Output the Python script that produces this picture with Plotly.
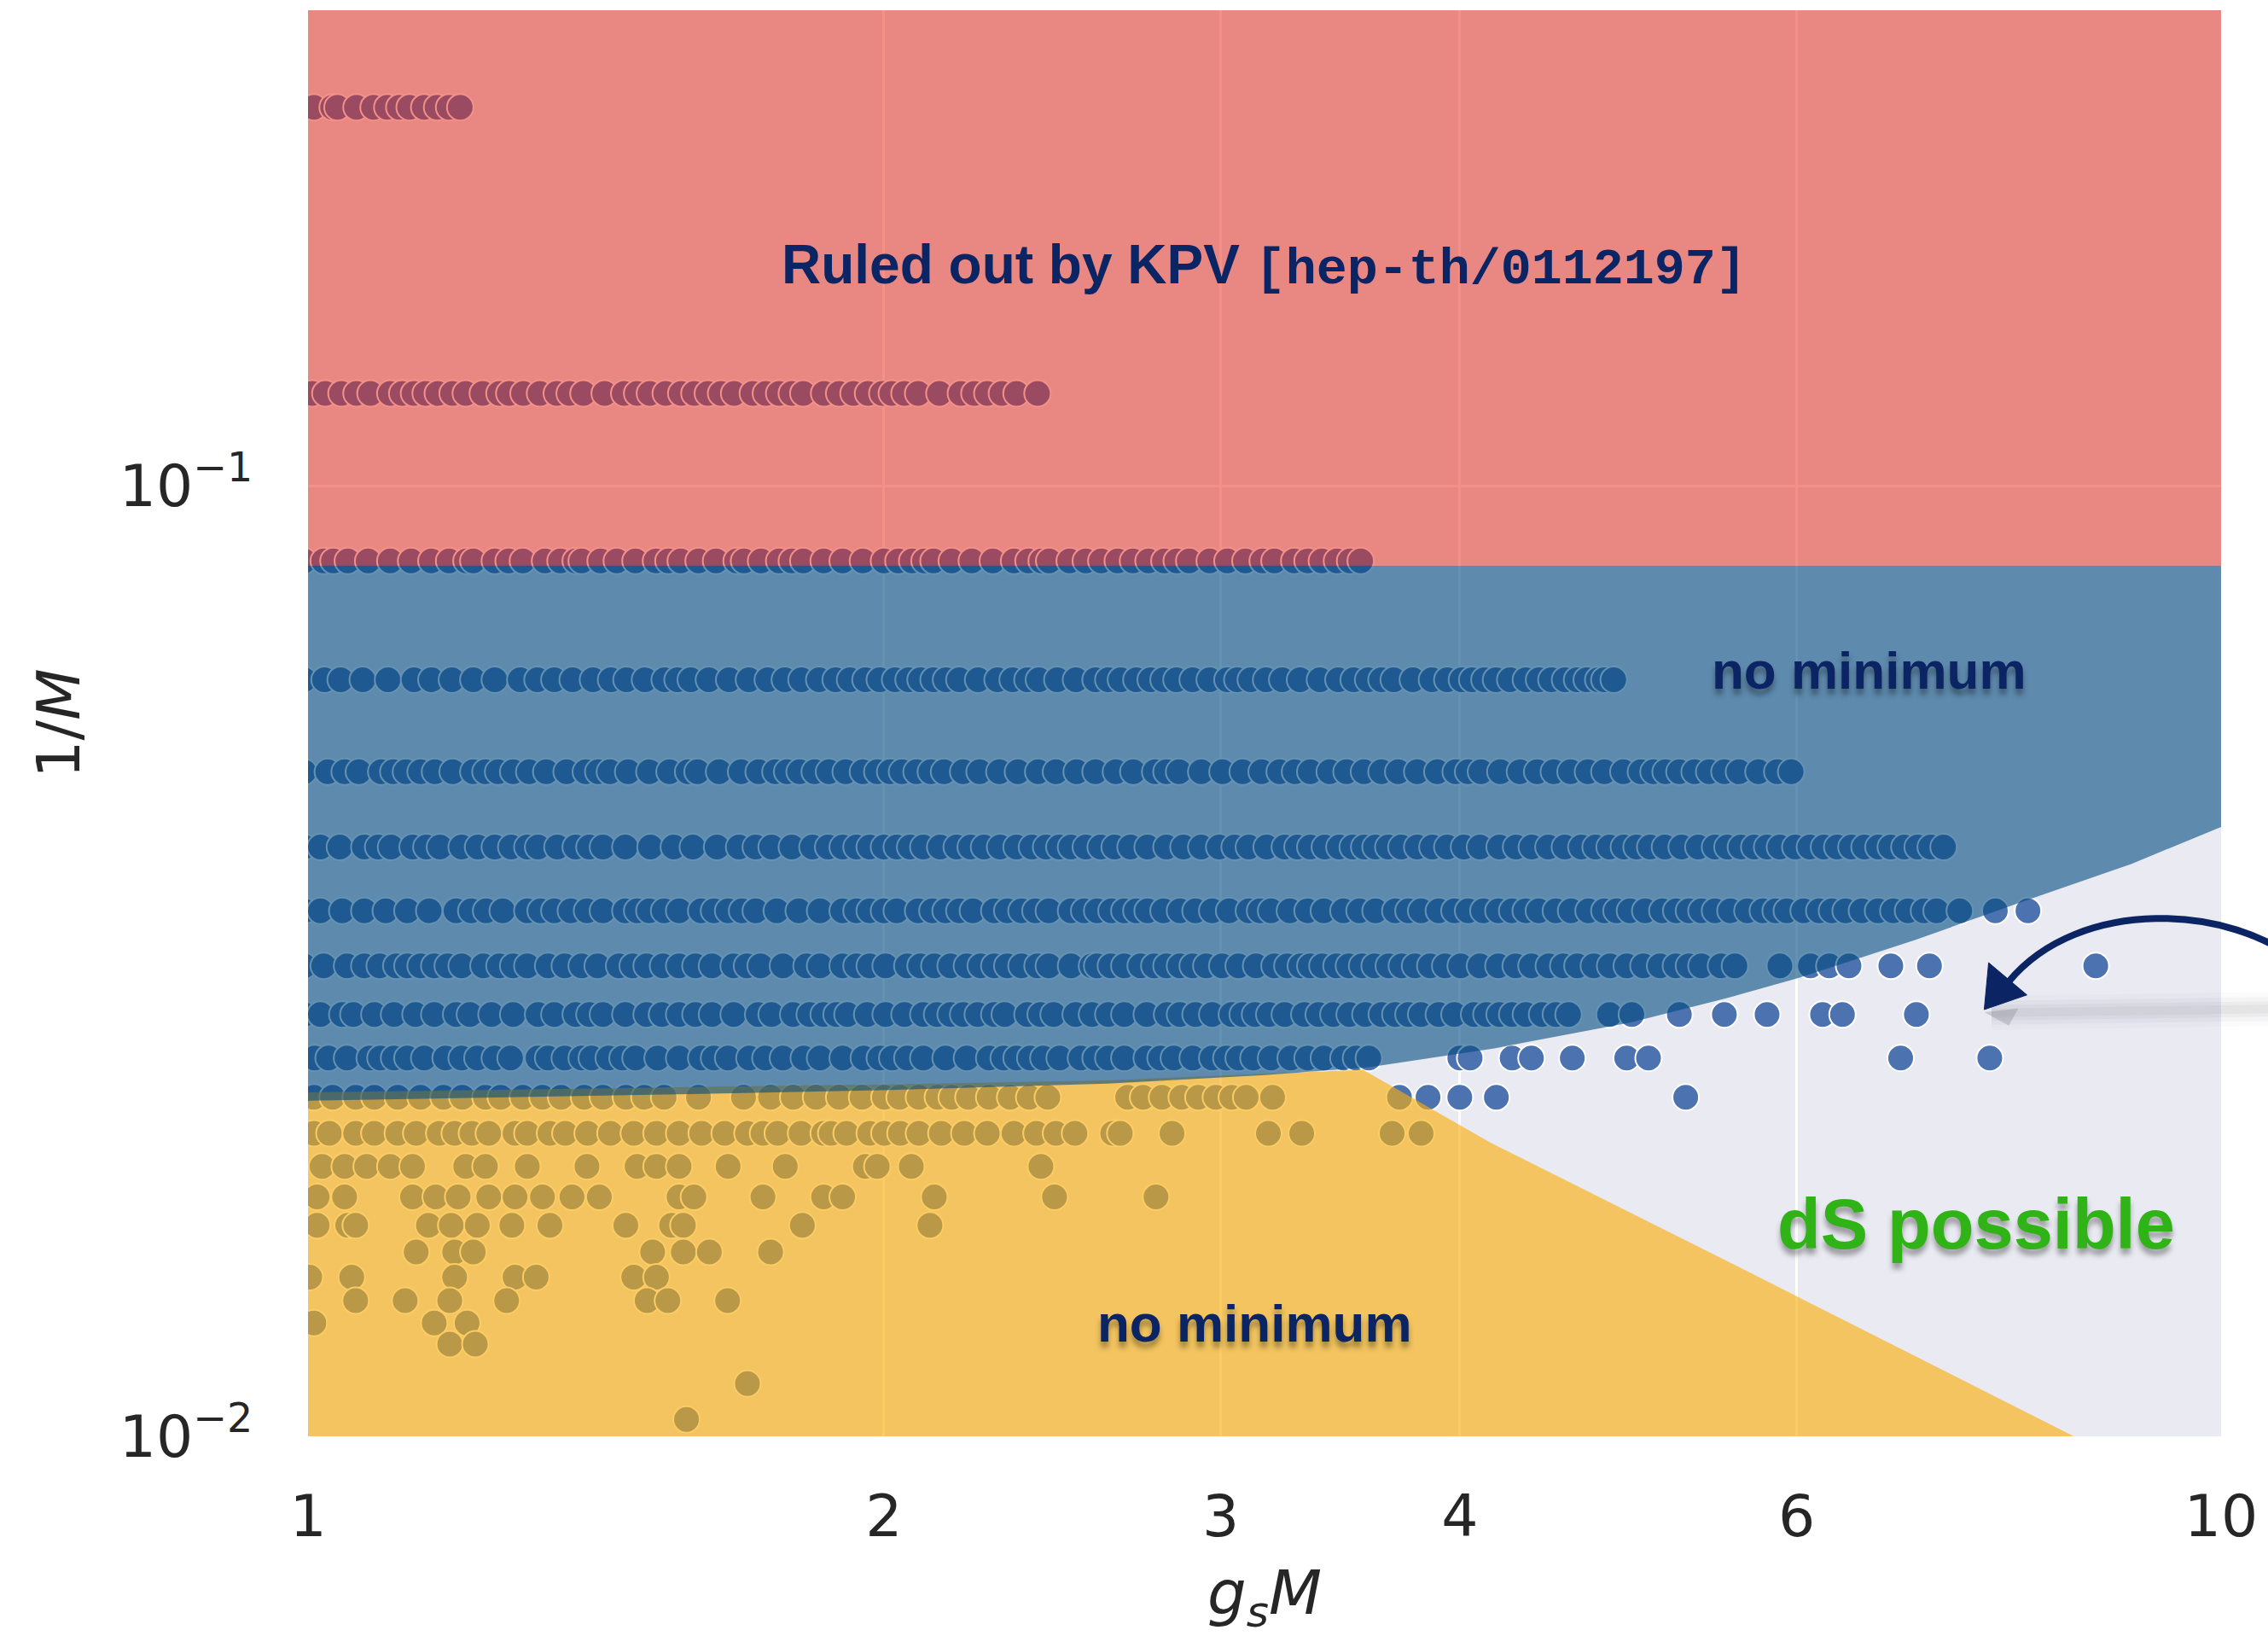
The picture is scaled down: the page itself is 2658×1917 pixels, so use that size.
import plotly.graph_objects as go

# ---------------------------------------------------------------------------
# Scan points: one list of g_s*M values per flux value M (plotted at y = 1/M)
# ---------------------------------------------------------------------------
M_values = [4, 8, 12, 16, 20, 24, 28, 32, 36, 40, 44, 48, 52, 56, 60, 64, 68, 72, 76, 80, 88, 96]

gsM_M4 = [0.995, 1.007, 1.03, 1.036, 1.06, 1.082, 1.10, 1.116, 1.13, 1.15, 1.168, 1.185, 1.201]

gsM_M8 = [0.995, 1.005, 1.021, 1.041, 1.06, 1.078, 1.104, 1.12, 1.136, 1.152, 1.169, 1.19, 1.209,
          1.234, 1.259, 1.274, 1.296, 1.322, 1.349, 1.37, 1.393, 1.429, 1.463, 1.486, 1.509,
          1.538, 1.567, 1.592, 1.618, 1.644, 1.670, 1.708, 1.735, 1.763, 1.79, 1.815, 1.861,
          1.895, 1.928, 1.962, 1.996, 2.019, 2.05, 2.084, 2.138, 2.194, 2.23, 2.265, 2.305,
          2.346, 2.406]

gsM_M12 = [0.995, 1.019, 1.031, 1.049, 1.075, 1.104, 1.132, 1.160, 1.185, 1.210, 1.22, 1.252,
           1.273, 1.295, 1.33, 1.355, 1.380, 1.39, 1.422, 1.45, 1.483, 1.52, 1.543, 1.566, 1.60,
           1.634, 1.675, 1.69, 1.725, 1.763, 1.79, 1.815, 1.86, 1.903, 1.95, 2.000, 2.035,
           2.069, 2.10, 2.123, 2.17, 2.223, 2.28, 2.339, 2.38, 2.418, 2.44, 2.501, 2.55, 2.598,
           2.65, 2.699, 2.75, 2.803, 2.845, 2.888, 2.96, 3.024, 3.09, 3.155, 3.20, 3.277, 3.33,
           3.388, 3.45, 3.505, 3.55]

gsM_M16 = [0.995, 1.020, 1.04, 1.068, 1.101, 1.136, 1.16, 1.189, 1.22, 1.252, 1.291, 1.318,
           1.345, 1.375, 1.409, 1.44, 1.467, 1.50, 1.536, 1.56, 1.585, 1.62, 1.660, 1.70, 1.739,
           1.775, 1.811, 1.85, 1.887, 1.92, 1.956, 1.99, 2.027, 2.06, 2.09, 2.123, 2.155, 2.190,
           2.24, 2.293, 2.335, 2.377, 2.41, 2.464, 2.52, 2.580, 2.62, 2.660, 2.71, 2.757, 2.80,
           2.844, 2.90, 2.96, 3.024, 3.06, 3.11, 3.168, 3.23, 3.300, 3.38, 3.456, 3.52, 3.582,
           3.64, 3.694, 3.78, 3.868, 3.94, 4.010, 4.06, 4.12, 4.178, 4.25, 4.331, 4.40, 4.466,
           4.54, 4.606, 4.66, 4.725, 4.76, 4.814]

gsM_M20 = [0.995, 1.024, 1.045, 1.063, 1.092, 1.108, 1.125, 1.145, 1.165, 1.19, 1.220, 1.238,
           1.257, 1.28, 1.305, 1.332, 1.365, 1.397, 1.418, 1.438, 1.47, 1.508, 1.545, 1.580,
           1.598, 1.64, 1.684, 1.72, 1.755, 1.78, 1.807, 1.84, 1.872, 1.91, 1.95, 1.984, 2.015,
           2.044, 2.08, 2.116, 2.15, 2.20, 2.244, 2.298, 2.35, 2.408, 2.46, 2.522, 2.58, 2.644,
           2.70, 2.772, 2.81, 2.853, 2.93, 3.006, 3.08, 3.151, 3.22, 3.28, 3.341, 3.42, 3.49,
           3.564, 3.64, 3.714, 3.80, 3.893, 3.98, 4.04, 4.103, 4.20, 4.300, 4.39, 4.479, 4.57,
           4.667, 4.76, 4.87, 4.974, 5.05, 5.124, 5.21, 5.306, 5.40, 5.50, 5.597, 5.73, 5.861,
           5.96]

gsM_M24 = [0.995, 1.015, 1.039, 1.070, 1.088, 1.105, 1.134, 1.153, 1.172, 1.203, 1.227, 1.252,
           1.277, 1.302, 1.319, 1.35, 1.380, 1.403, 1.426, 1.465, 1.51, 1.553, 1.589, 1.636,
           1.680, 1.714, 1.747, 1.79, 1.835, 1.87, 1.903, 1.935, 1.966, 2.0, 2.031, 2.064, 2.097,
           2.14, 2.183, 2.22, 2.256, 2.30, 2.346, 2.39, 2.431, 2.47, 2.505, 2.55, 2.596, 2.64,
           2.691, 2.747, 2.81, 2.868, 2.93, 2.994, 3.05, 3.103, 3.17, 3.240, 3.29, 3.341, 3.40,
           3.46, 3.516, 3.565, 3.614, 3.67, 3.728, 3.80, 3.87, 3.940, 4.02, 4.098, 4.196, 4.28,
           4.362, 4.45, 4.539, 4.630, 4.71, 4.79, 4.873, 4.948, 5.03, 5.12, 5.224, 5.33, 5.438,
           5.52, 5.61, 5.701, 5.79, 5.880, 5.99, 6.096, 6.20, 6.30, 6.408, 6.51, 6.62, 6.719,
           6.83, 6.94, 7.05, 7.16]

gsM_M28 = [0.995, 1.015, 1.042, 1.070, 1.098, 1.127, 1.157, 1.195, 1.217, 1.239, 1.264, 1.302,
           1.323, 1.345, 1.372, 1.399, 1.426, 1.465, 1.486, 1.508, 1.535, 1.563, 1.605, 1.63,
           1.658, 1.686, 1.714, 1.758, 1.805, 1.852, 1.903, 1.935, 1.966, 2.0, 2.031, 2.084,
           2.12, 2.154, 2.19, 2.226, 2.284, 2.32, 2.360, 2.40, 2.439, 2.505, 2.545, 2.585, 2.63,
           2.671, 2.71, 2.747, 2.80, 2.856, 2.91, 2.969, 3.03, 3.103, 3.145, 3.187, 3.26, 3.33,
           3.396, 3.477, 3.545, 3.614, 3.701, 3.76, 3.818, 3.90, 3.974, 4.04, 4.115, 4.19, 4.260,
           4.33, 4.399, 4.49, 4.573, 4.67, 4.760, 4.83, 4.909, 5.00, 5.104, 5.19, 5.27, 5.350,
           5.438, 5.54, 5.654, 5.76, 5.85, 5.929, 6.05, 6.165, 6.26, 6.364, 6.49, 6.617, 6.74,
           6.86, 6.993, 7.100, 7.301, 7.621, 7.926]

gsM_M32 = [0.995, 1.019, 1.048, 1.070, 1.09, 1.112, 1.127, 1.145, 1.164, 1.183, 1.203, 1.235,
           1.259, 1.28, 1.302, 1.335, 1.362, 1.390, 1.417, 1.454, 1.478, 1.503, 1.533, 1.563,
           1.594, 1.626, 1.669, 1.696, 1.724, 1.771, 1.822, 1.852, 1.903, 1.935, 1.966, 2.004,
           2.057, 2.09, 2.125, 2.167, 2.210, 2.247, 2.284, 2.32, 2.360, 2.406, 2.439, 2.505,
           2.569, 2.585, 2.628, 2.671, 2.724, 2.769, 2.81, 2.856, 2.90, 2.948, 3.005, 3.065,
           3.13, 3.200, 3.25, 3.303, 3.341, 3.39, 3.448, 3.50, 3.556, 3.61, 3.672, 3.73, 3.790,
           3.86, 3.93, 4.004, 4.098, 4.19, 4.278, 4.36, 4.452, 4.53, 4.608, 4.70, 4.793, 4.89,
           4.989, 5.09, 5.188, 5.27, 5.350, 5.477, 5.57, 5.88, 6.10, 6.24, 6.39, 6.72, 7.04,
           8.60]

gsM_M36 = [0.995, 1.015, 1.042, 1.056, 1.083, 1.109, 1.138, 1.164, 1.195, 1.215, 1.247, 1.280,
           1.319, 1.345, 1.380, 1.403, 1.426, 1.465, 1.503, 1.531, 1.563, 1.594, 1.626, 1.669,
           1.719, 1.747, 1.793, 1.829, 1.86, 1.889, 1.914, 1.96, 2.004, 2.05, 2.097, 2.132,
           2.167, 2.2, 2.239, 2.284, 2.313, 2.377, 2.415, 2.453, 2.519, 2.569, 2.62, 2.671,
           2.744, 2.812, 2.856, 2.91, 2.969, 3.040, 3.08, 3.126, 3.18, 3.240, 3.317, 3.375,
           3.435, 3.503, 3.57, 3.641, 3.701, 3.76, 3.818, 3.90, 3.974, 4.069, 4.13, 4.196, 4.26,
           4.331, 4.416, 4.49, 4.559, 4.79, 4.92, 5.21, 5.50, 5.79, 6.19, 6.34, 6.93]

gsM_M40 = [0.995, 1.008, 1.025, 1.048, 1.077, 1.091, 1.109, 1.127, 1.150, 1.180, 1.203, 1.226,
           1.252, 1.276, 1.319, 1.335, 1.362, 1.390, 1.407, 1.436, 1.46, 1.483, 1.523, 1.563,
           1.605, 1.63, 1.658, 1.701, 1.734, 1.771, 1.816, 1.852, 1.903, 1.952, 1.990, 2.02,
           2.057, 2.097, 2.154, 2.210, 2.270, 2.31, 2.346, 2.385, 2.423, 2.471, 2.535, 2.58,
           2.620, 2.671, 2.744, 2.79, 2.835, 2.900, 2.969, 3.02, 3.065, 3.12, 3.187, 3.263, 3.33,
           3.396, 3.477, 3.53, 3.585, 4.00, 4.05, 4.26, 4.36, 4.58, 4.89, 5.02, 6.80, 7.57]

gsM_M44 = [0.995, 1.007, 1.030, 1.059, 1.083, 1.114, 1.145, 1.177, 1.204, 1.238, 1.261, 1.295,
           1.326, 1.356, 1.394, 1.426, 1.466, 1.499, 1.535, 1.600, 1.689, 1.745, 1.793, 1.843,
           1.895, 1.948, 2.001, 2.038, 2.086, 2.134, 2.17, 2.214, 2.27, 2.328, 2.382, 2.436,
           2.682, 2.732, 2.795, 2.862, 2.92, 2.982, 3.04, 3.093, 3.193, 3.72, 3.85, 4.00, 4.18,
           5.25]

gsM_M48 = [1.007, 1.026, 1.059, 1.083, 1.114, 1.139, 1.171, 1.193, 1.218, 1.243, 1.283, 1.302,
           1.338, 1.363, 1.400, 1.439, 1.480, 1.521, 1.563, 1.606, 1.651, 1.697, 1.729, 1.760,
           1.81, 1.860, 1.877, 1.912, 1.966, 2.001, 2.04, 2.086, 2.143, 2.203, 2.265, 2.339,
           2.403, 2.46, 2.517, 2.634, 2.658, 2.829, 3.177, 3.307, 3.687, 3.818]

gsM_M52 = [1.017, 1.045, 1.073, 1.104, 1.134, 1.209, 1.238, 1.302, 1.399, 1.486, 1.521, 1.563,
           1.658, 1.776, 1.956, 1.984, 2.067, 2.416]

gsM_M56 = [1.011, 1.045, 1.134, 1.166, 1.198, 1.243, 1.283, 1.326, 1.374, 1.420, 1.563, 1.591,
           1.729, 1.860, 1.903, 2.125, 2.456, 2.775]

gsM_M60 = [1.011, 1.049, 1.059, 1.156, 1.188, 1.226, 1.278, 1.338, 1.466, 1.549, 1.571, 1.813,
           2.114]

gsM_M64 = [1.139, 1.193, 1.220, 1.514, 1.571, 1.621, 1.745]

gsM_M68 = [1.002, 1.054, 1.193, 1.283, 1.316, 1.480, 1.521]

gsM_M72 = [1.059, 1.124, 1.186, 1.270, 1.504, 1.542, 1.657]

gsM_M76 = [1.007, 1.164, 1.211]

gsM_M80 = [1.186, 1.223]

gsM_M88 = [1.697]

gsM_M96 = [1.577]

row_values = [gsM_M4, gsM_M8, gsM_M12, gsM_M16, gsM_M20, gsM_M24, gsM_M28, gsM_M32, gsM_M36,
              gsM_M40, gsM_M44, gsM_M48, gsM_M52, gsM_M56, gsM_M60, gsM_M64, gsM_M68, gsM_M72,
              gsM_M76, gsM_M80, gsM_M88, gsM_M96]

# ---------------------------------------------------------------------------
# Region boundaries (g_s M, 1/M)
# ---------------------------------------------------------------------------
kpv_bound = 0.0824                      # KPV bound on 1/M
ymax = 0.33

red_x = [1.0, 10.0, 10.0, 1.0]
red_y = [kpv_bound, kpv_bound, ymax, ymax]

# lower edge of the upper "no minimum" band
blue_edge_x = [1.0, 1.585, 1.995, 2.618, 3.162, 3.581, 4.169, 4.909, 5.495, 6.012, 6.918, 7.870, 8.974, 10.0]
blue_edge_y = [0.02254, 0.02291, 0.02312, 0.02350, 0.02399, 0.02443, 0.02559, 0.02723, 0.02884,
               0.03034, 0.03327, 0.03648, 0.03999, 0.04375]

# lower-left "no minimum" region
yellow_x = [1.0, 1.585, 1.995, 2.618, 3.162, 3.56, 4.155, 5.57, 8.375, 1.0]
yellow_y = [0.0230, 0.02330, 0.02345, 0.02368, 0.02406, 0.0243, 0.02034, 0.01514, 0.01, 0.01]

# ---------------------------------------------------------------------------
xs, ys = [], []
for M, vals in zip(M_values, row_values):
    xs.extend(vals)
    ys.extend([1.0 / M] * len(vals))

NAVY = "#0B2463"
GREEN = "#2FB316"
TICK = "#262626"

fig = go.Figure()

fig.add_trace(go.Scatter(
    x=xs, y=ys, mode="markers",
    marker=dict(size=31, color="#4C72B0", line=dict(color="white", width=2)),
    hoverinfo="skip", showlegend=False,
))

fig.add_trace(go.Scatter(
    x=yellow_x, y=yellow_y, fill="toself", mode="none",
    fillcolor="rgba(248,174,10,0.63)", hoverinfo="skip", showlegend=False,
))

blue_x = [1.0, 10.0] + blue_edge_x[::-1]
blue_y = [kpv_bound, kpv_bound] + blue_edge_y[::-1]
fig.add_trace(go.Scatter(
    x=blue_x, y=blue_y, fill="toself", mode="none",
    fillcolor="rgba(0,74,127,0.6)", hoverinfo="skip", showlegend=False,
))

fig.add_trace(go.Scatter(
    x=red_x, y=red_y, fill="toself", mode="none",
    fillcolor="rgba(232,36,18,0.5)", hoverinfo="skip", showlegend=False,
))

tick_font = dict(family="DejaVu Sans", size=68, color=TICK)

fig.update_layout(
    width=2658, height=1917,
    margin=dict(l=361, r=52, t=12, b=234),
    paper_bgcolor="white",
    plot_bgcolor="#EAEAF2",
    showlegend=False,
    xaxis=dict(
        type="log", range=[0, 1],
        tickvals=[1, 2, 3, 4, 6, 10], ticktext=["1", "2", "3", "4", "6", "10"],
        showgrid=True, gridcolor="white", gridwidth=3,
        zeroline=False, showline=False,
        ticks="outside", ticklen=34, tickcolor="rgba(0,0,0,0)",
        tickfont=tick_font,
    ),
    yaxis=dict(
        type="log", range=[-2, -0.5],
        tickvals=[0.01, 0.1], ticktext=["10<sup>−2</sup>", "10<sup>−1</sup>"],
        showgrid=True, gridcolor="white", gridwidth=3,
        zeroline=False, showline=False,
        ticks="outside", ticklen=50, tickcolor="rgba(0,0,0,0)",
        tickfont=tick_font,
    ),
)

label_shadow = "0px 7px 6px rgba(0,0,0,0.35)"

annotations = [
    dict(x=0.4998, y=0.8205, xref="paper", yref="paper", showarrow=False,
         xanchor="center", yanchor="middle",
         text='<b>Ruled out by KPV <span style="font-family:\'Liberation Mono\';font-size:60px">'
              '[hep-th/0112197]</span></b>',
         font=dict(family="Liberation Sans", size=64, color=NAVY)),
    dict(x=0.816, y=0.5374, xref="paper", yref="paper", showarrow=False,
         xanchor="center", yanchor="middle", text="<b>no minimum</b>",
         font=dict(family="Liberation Sans", size=62, color=NAVY, shadow=label_shadow)),
    dict(x=0.4949, y=0.079, xref="paper", yref="paper", showarrow=False,
         xanchor="center", yanchor="middle", text="<b>no minimum</b>",
         font=dict(family="Liberation Sans", size=62, color=NAVY, shadow=label_shadow)),
    dict(x=0.8722, y=0.149, xref="paper", yref="paper", showarrow=False,
         xanchor="center", yanchor="middle", text="<b>dS possible</b>",
         font=dict(family="Liberation Sans", size=83, color=GREEN, shadow=label_shadow)),
    dict(x=0.5, y=-0.1125, xref="paper", yref="paper", showarrow=False,
         xanchor="center", yanchor="middle", text="<i>g<sub>s</sub>M</i>",
         font=dict(family="DejaVu Sans", size=72, color=TICK)),
    dict(x=-0.1305, y=0.5, xref="paper", yref="paper", showarrow=False,
         xanchor="center", yanchor="middle", textangle=-90, text="1/<i>M</i>",
         font=dict(family="DejaVu Sans", size=70, color=TICK)),
]
fig.update_layout(annotations=annotations)

# curved pointer arrow with a soft shadow
shapes = []
for w, a in [(40, 0.025), (28, 0.035), (18, 0.045), (10, 0.05)]:
    shapes.append(dict(type="line", xref="paper", yref="paper", layer="above",
                       x0=0.8800, y0=0.297, x1=1.045, y1=0.300,
                       line=dict(color=f"rgba(70,70,85,{a})", width=w)))
shapes.append(dict(type="path", xref="paper", yref="paper", layer="above",
                   path="M 0.8762 0.2975 L 0.8890 0.2880 L 0.8940 0.3000 Z",
                   fillcolor="rgba(60,60,70,0.18)", line=dict(width=0)))
shapes.append(dict(type="path", xref="paper", yref="paper", layer="above",
                   path="M 1.0419 0.3309 C 1.0062 0.3728, 0.9261 0.3788, 0.8891 0.3190",
                   line=dict(color=NAVY, width=8)))
shapes.append(dict(type="path", xref="paper", yref="paper", layer="above",
                   path="M 0.8762 0.2992 L 0.8785 0.3321 L 0.8985 0.3095 Z",
                   fillcolor=NAVY, line=dict(color=NAVY, width=1)))
fig.update_layout(shapes=shapes)

fig.write_html("out.html")
